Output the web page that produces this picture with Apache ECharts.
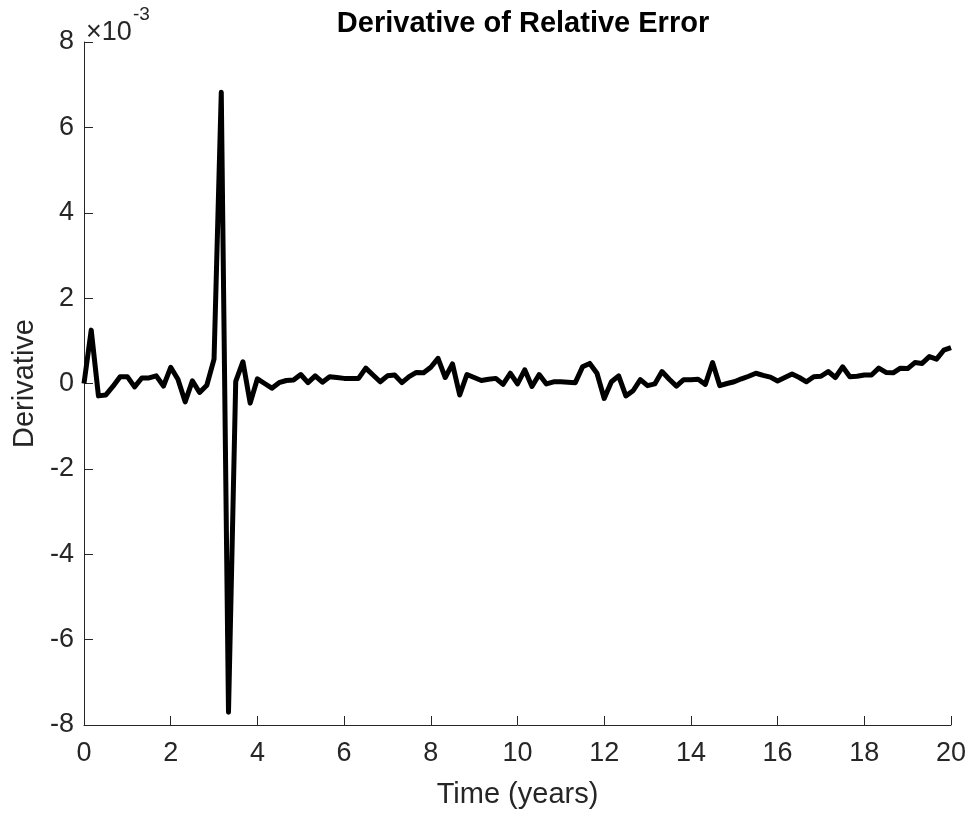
<!DOCTYPE html>
<html>
<head>
<meta charset="utf-8">
<title>Derivative of Relative Error</title>
<script src="https://cdn.jsdelivr.net/npm/echarts@6/dist/echarts.min.js"></script>
<style>
  html, body { margin: 0; padding: 0; background: #ffffff; }
  #chart { width: 971px; height: 815px; }
</style>
</head>
<body>
<div id="chart"></div>
<script>
// Sampling: one value every two months (1/6 year) over 20 years
const sampleStepYears = 1 / 6;

// Derivative of the relative error, in units of 1e-3
const derivative = [
  0.00, 1.25, -0.29, -0.27, -0.07, 0.16, 0.16, -0.08, 0.13, 0.13,
  0.18, -0.06, 0.38, 0.10, -0.43, 0.06, -0.21, -0.04, 0.57, 6.82,
  -7.70, 0.05, 0.51, -0.46, 0.11, 0.00, -0.11, 0.02, 0.07, 0.08,
  0.21, 0.02, 0.18, 0.03, 0.16, 0.14, 0.12, 0.12, 0.12, 0.36,
  0.20, 0.04, 0.18, 0.20, 0.02, 0.16, 0.26, 0.25, 0.38, 0.59,
  0.14, 0.46, -0.27, 0.21, 0.14, 0.07, 0.10, 0.12, -0.02, 0.24,
  -0.01, 0.32, -0.07, 0.21, -0.01, 0.04, 0.04, 0.03, 0.02, 0.39,
  0.47, 0.24, -0.35, 0.04, 0.18, -0.29, -0.17, 0.09, -0.05, -0.01,
  0.28, 0.10, -0.06, 0.09, 0.09, 0.10, -0.02, 0.49, -0.05, 0.00,
  0.04, 0.11, 0.17, 0.24, 0.19, 0.15, 0.06, 0.14, 0.22, 0.14,
  0.04, 0.16, 0.17, 0.28, 0.14, 0.39, 0.16, 0.17, 0.20, 0.20,
  0.36, 0.26, 0.25, 0.36, 0.35, 0.49, 0.47, 0.63, 0.57, 0.78,
  0.84
];

// Time stamps (years) for each sample
const timeYears = derivative.map((_, i) => i * sampleStepYears);

const xTicks = { min: 0, max: 20, interval: 2 };
const yTicks = { min: -8, max: 8, interval: 2 };

const axisColor = '#262626';
const fontFamily = '"Liberation Sans", Arial, Helvetica, sans-serif';

const chart = echarts.init(document.getElementById('chart'), null, { renderer: 'canvas' });

chart.setOption({
  backgroundColor: '#ffffff',
  animation: false,
  title: {
    text: 'Derivative of Relative Error',
    left: 518,
    textAlign: 'center',
    top: 4,
    textStyle: { fontFamily, fontSize: 29, fontWeight: 'bold', color: '#000000' }
  },
  graphic: [
    {
      type: 'text',
      left: 86,
      top: 19,
      style: { text: '×10', fontFamily, fontSize: 27, fill: axisColor }
    },
    {
      type: 'text',
      left: 133,
      top: 5,
      style: { text: '-3', fontFamily, fontSize: 19, fill: axisColor }
    }
  ],
  grid: { left: 84, right: 20, top: 42, bottom: 90, containLabel: false },
  xAxis: {
    type: 'value',
    min: xTicks.min,
    max: xTicks.max,
    interval: xTicks.interval,
    name: 'Time (years)',
    nameLocation: 'middle',
    nameGap: 55,
    nameTextStyle: { fontFamily, fontSize: 29, color: axisColor },
    axisLine: { show: true, onZero: false, lineStyle: { color: axisColor, width: 1 } },
    axisTick: { show: true, inside: true, length: 9, lineStyle: { color: axisColor } },
    axisLabel: { fontFamily, fontSize: 27, color: axisColor, margin: 15 },
    splitLine: { show: false }
  },
  yAxis: {
    type: 'value',
    min: yTicks.min,
    max: yTicks.max,
    interval: yTicks.interval,
    name: 'Derivative',
    nameLocation: 'middle',
    nameGap: 44,
    nameRotate: 90,
    nameTextStyle: { fontFamily, fontSize: 29, color: axisColor },
    axisLine: { show: true, onZero: false, lineStyle: { color: axisColor, width: 1 } },
    axisTick: { show: true, inside: true, length: 9, lineStyle: { color: axisColor } },
    axisLabel: { fontFamily, fontSize: 27, color: axisColor, margin: 10 },
    splitLine: { show: false }
  },
  series: [
    {
      type: 'line',
      data: timeYears.map((t, i) => [t, derivative[i]]),
      showSymbol: false,
      symbol: 'none',
      lineStyle: { color: '#000000', width: 5, join: 'round' },
      z: 3
    }
  ]
});
</script>
</body>
</html>
